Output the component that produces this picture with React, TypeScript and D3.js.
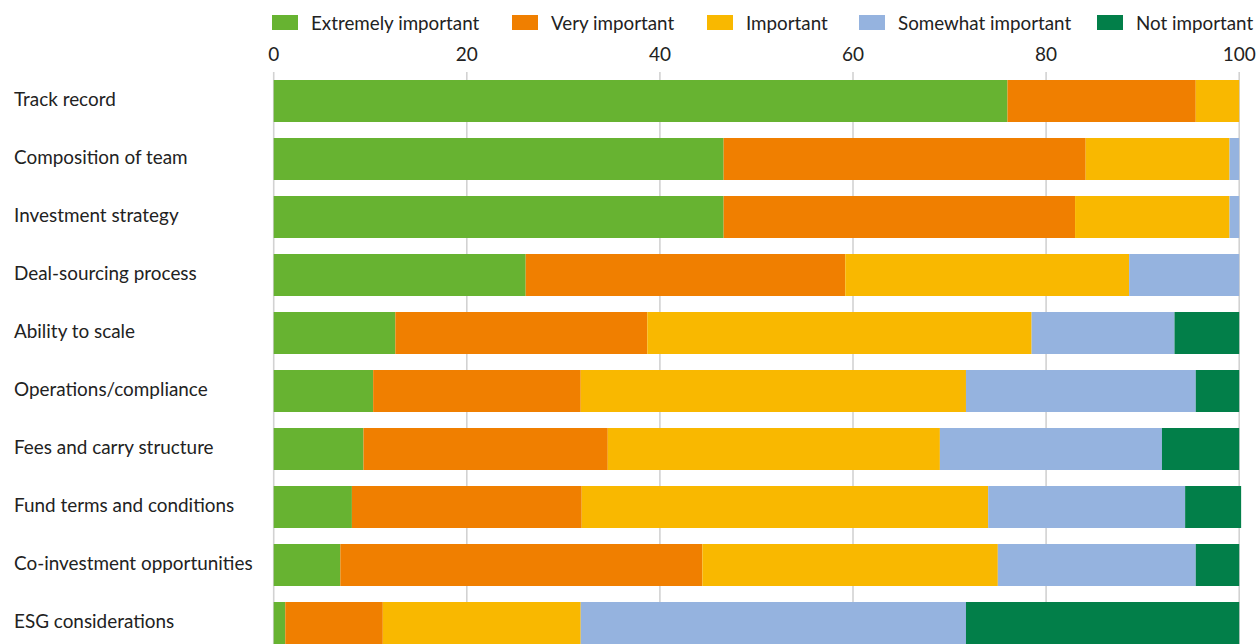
import React, { useEffect } from "react";
import * as d3 from "d3";

const categories = [
  "Track record",
  "Composition of team",
  "Investment strategy",
  "Deal-sourcing process",
  "Ability to scale",
  "Operations/compliance",
  "Fees and carry structure",
  "Fund terms and conditions",
  "Co-investment opportunities",
  "ESG considerations",
];
const seriesNames = ["Extremely important", "Very important", "Important", "Somewhat important", "Not important"];
const extremely = [76, 46.6, 46.6, 26.1, 12.6, 10.3, 9.3, 8.1, 6.9, 1.2];
const very = [19.5, 37.5, 36.4, 33.1, 26.1, 21.5, 25.3, 23.8, 37.5, 10.1];
const important = [4.5, 14.9, 16.0, 29.4, 39.8, 39.9, 34.4, 42.1, 30.6, 20.5];
const somewhat = [0, 1.0, 1.0, 11.4, 14.8, 23.8, 23.0, 20.4, 20.5, 39.9];
const notImportant = [0, 0, 0, 0, 6.7, 4.5, 8.0, 5.8, 4.5, 28.3];
const xTicks = [0, 20, 40, 60, 80, 100];
const colors = ["#67b331", "#f07f00", "#f9b800", "#95b3df", "#027f49"];

const W = 1256;
const H = 644;
const FONT = "Lato, 'Noto Sans', sans-serif";

export default function App() {
  useEffect(() => {
    document.body.style.margin = "0";
  }, []);
  const series = [extremely, very, important, somewhat, notImportant];
  const rows = categories.map((c, i) => {
    const o: any = { cat: c };
    seriesNames.forEach((s, j) => (o[s] = series[j][i]));
    return o;
  });
  const stacked = d3.stack().keys(seriesNames)(rows);
  const x = d3.scaleLinear().domain([0, 100]).range([273.7, 1239.2]);
  const y = d3
    .scaleBand()
    .domain(categories)
    .range([80, 644])
    .paddingInner(16 / 58)
    .paddingOuter(0);
  const bw = y.bandwidth();
  const legendX = [272, 512, 707, 859, 1097];
  return (
    <svg width={W} height={H} style={{ display: "block", fontFamily: FONT }}>
      <rect width={W} height={H} fill="#fff" />
      {xTicks.map((t) => (
        <g key={t}>
          <line x1={x(t)} x2={x(t)} y1={72} y2={H} stroke="#d2d2d2" strokeWidth={1.6} />
          <text x={x(t)} y={61} textAnchor="middle" fontSize={19} fill="#222">
            {t}
          </text>
        </g>
      ))}
      {stacked.map((s, j) => (
        <g key={s.key} fill={colors[j]}>
          {s.map((d, i) => (
            <rect
              key={i}
              x={x(d[0])}
              width={Math.max(0, x(d[1]) - x(d[0]))}
              y={y(categories[i])}
              height={bw}
            />
          ))}
        </g>
      ))}
      {categories.map((c) => (
        <text key={c} x={14} y={(y(c) as number) + bw / 2 + 4.7} fontSize={18.9} fill="#222">
          {c}
        </text>
      ))}
      {seriesNames.map((s, j) => (
        <g key={s}>
          <rect x={legendX[j]} y={15} width={26} height={15} fill={colors[j]} />
          <text x={legendX[j] + 39} y={30.3} fontSize={18.8} fill="#222">
            {s}
          </text>
        </g>
      ))}
    </svg>
  );
}
